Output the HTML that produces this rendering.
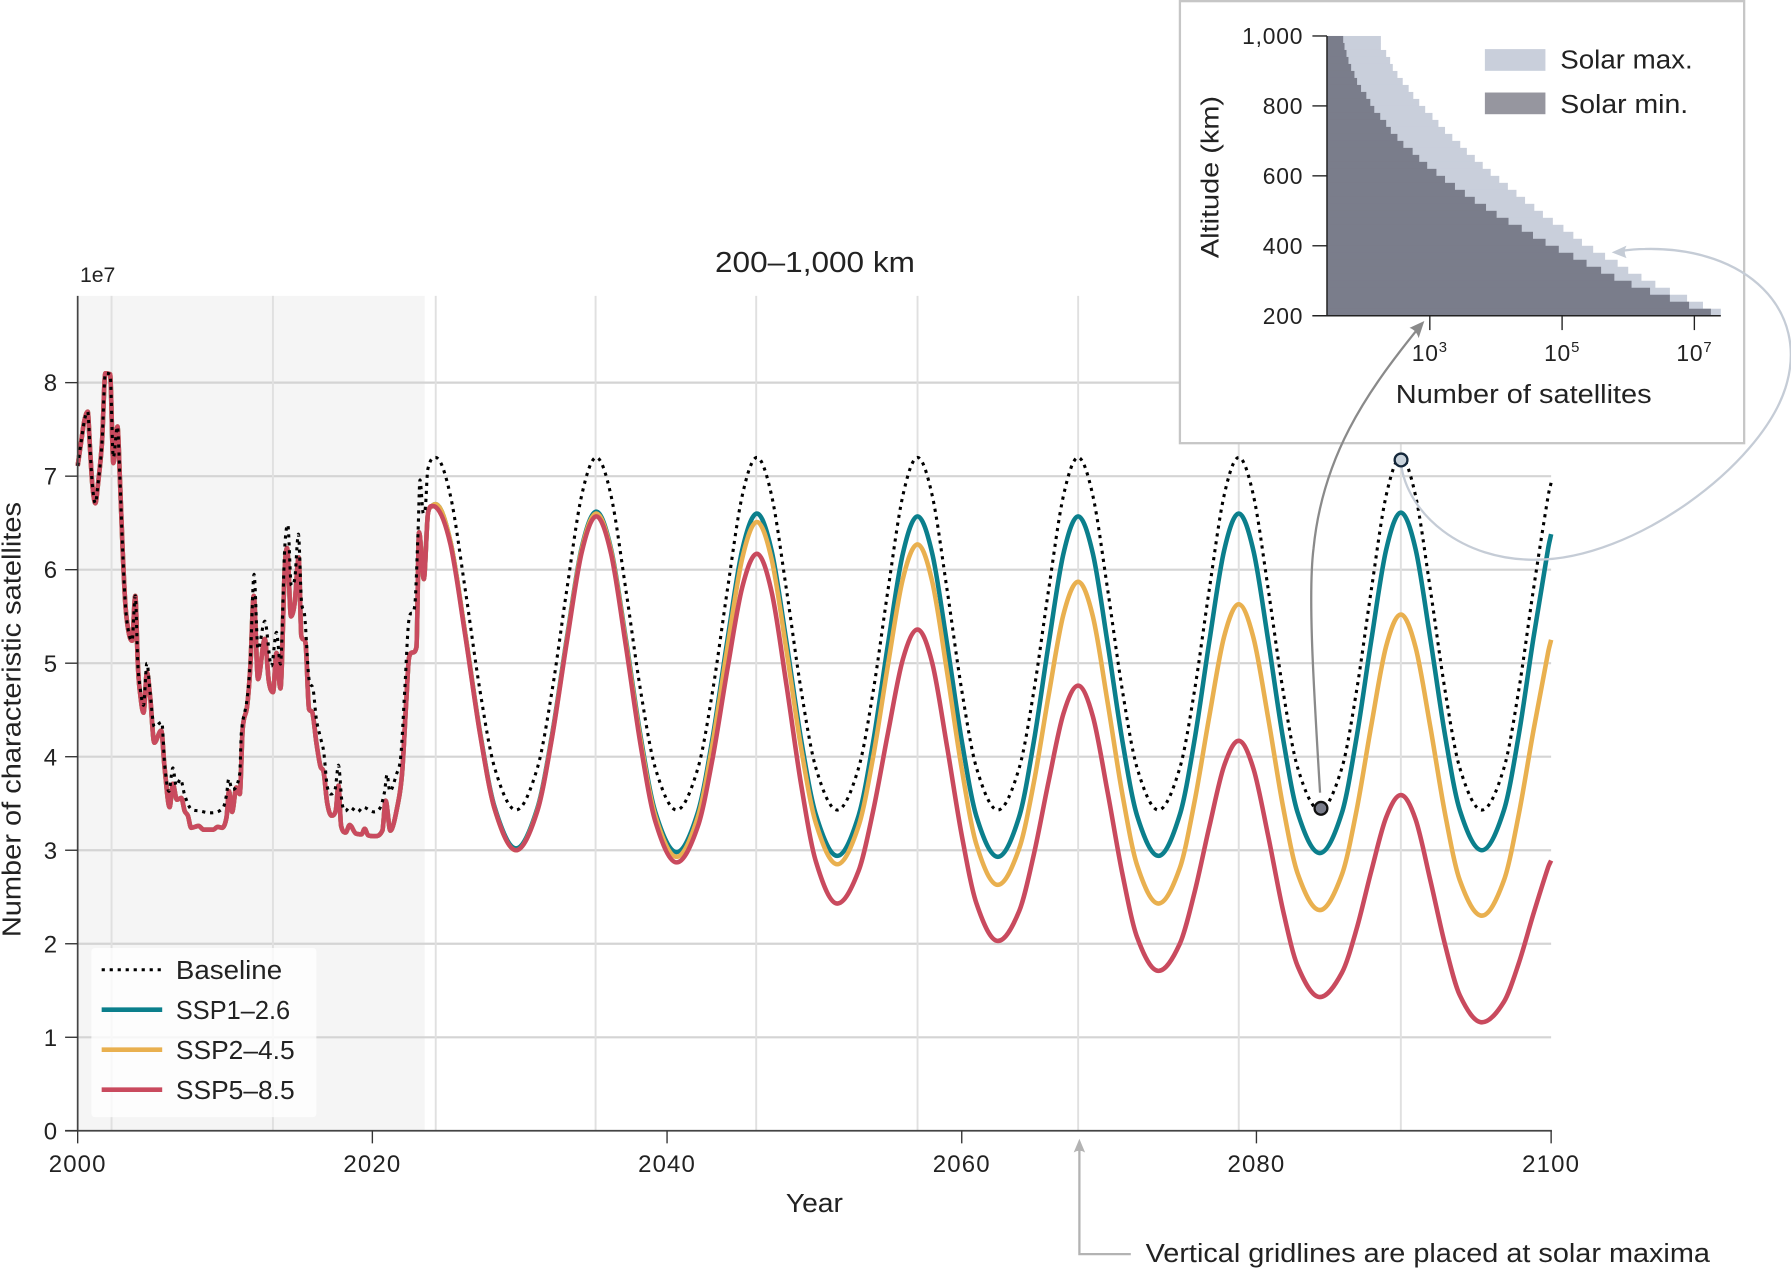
<!DOCTYPE html>
<html lang="en">
<head>
<meta charset="utf-8">
<title>Characteristic satellites 200–1,000 km</title>
<style>
html,body{margin:0;padding:0;background:#fff;}
svg{display:block;}
text{font-family:"Liberation Sans",sans-serif;fill:#222;}
.tick{font-size:21px;}
.xt{letter-spacing:1px;text-anchor:middle;}
.yt{text-anchor:end;}
.lab{font-size:23px;}
.it{font-size:20px;letter-spacing:.7px;}
</style>
</head>
<body>
<svg id="fig" xmlns="http://www.w3.org/2000/svg" width="1791" height="1269" viewBox="0 0 1568 1111">
  <rect x="0" y="0" width="1568" height="1111" fill="#fff"/>
  <g id="main-plot"></g>
  <text x="70" y="247" font-size="19" textLength="31" lengthAdjust="spacingAndGlyphs">1e7</text>
  <text x="713.5" y="238" font-size="25" text-anchor="middle" textLength="175" lengthAdjust="spacingAndGlyphs">200–1,000 km</text>
  <text transform="translate(18 630) rotate(-90)" class="lab" text-anchor="middle" textLength="381" lengthAdjust="spacingAndGlyphs">Number of characteristic satellites</text>
  <text x="713" y="1061" class="lab" text-anchor="middle" textLength="50" lengthAdjust="spacingAndGlyphs">Year</text>

  <g>
    <rect x="80" y="830" width="197" height="148" rx="3" fill="#fff" fill-opacity=".78"/>
    <line x1="89" x2="142" y1="849" y2="849" stroke="#000" stroke-width="2.6" stroke-dasharray="2.8 4.2"/>
    <text x="154" y="857" class="lab" textLength="93" lengthAdjust="spacingAndGlyphs">Baseline</text>
    <line x1="89" x2="142" y1="884" y2="884" stroke="#0b7f8c" stroke-width="4"/>
    <text x="154" y="892" class="lab" textLength="100" lengthAdjust="spacingAndGlyphs">SSP1–2.6</text>
    <line x1="89" x2="142" y1="919" y2="919" stroke="#e9b04f" stroke-width="4"/>
    <text x="154" y="927" class="lab" textLength="104" lengthAdjust="spacingAndGlyphs">SSP2–4.5</text>
    <line x1="89" x2="142" y1="954" y2="954" stroke="#c94a5e" stroke-width="4"/>
    <text x="154" y="962" class="lab" textLength="104" lengthAdjust="spacingAndGlyphs">SSP5–8.5</text>
  </g>

  <g>
    <path d="M990 1098H945V1004" fill="none" stroke="#b3b3b3" stroke-width="2"/>
    <path d="M945 997L940 1009Q945 1006 950 1009Z" fill="#b3b3b3"/>
    <text x="1003" y="1105" class="lab" textLength="494" lengthAdjust="spacingAndGlyphs">Vertical gridlines are placed at solar maxima</text>
  </g>

  <g>
    <rect x="1033" y="1" width="494" height="387" fill="#fff" stroke="#c6c6c6" stroke-width="2"/>
    <g id="inset-plot"></g>
    <rect x="1300" y="43" width="53" height="19" fill="#c9cfdb"/>
    <text x="1366" y="60" font-size="23" textLength="116" lengthAdjust="spacingAndGlyphs">Solar max.</text>
    <rect x="1300" y="81" width="53" height="19" fill="#96969f"/>
    <text x="1366" y="99" font-size="23" textLength="112" lengthAdjust="spacingAndGlyphs">Solar min.</text>
    <text transform="translate(1067 155) rotate(-90)" font-size="22" text-anchor="middle" textLength="142" lengthAdjust="spacingAndGlyphs">Altitude (km)</text>
    <text x="1334" y="353" font-size="23" text-anchor="middle" textLength="224" lengthAdjust="spacingAndGlyphs">Number of satellites</text>
  </g>

  <g>
    <path d="M1155.7 694C1150 600 1145 520 1150 480C1158 400 1195 345 1242 287" fill="none" stroke="#8a8a8a" stroke-width="2"/>
    <path d="M1247 281L1234 287Q1240 289 1242 296Z" fill="#8a8a8a"/>
    <path d="M1226.6 406C1232 450 1280 491 1345 490C1430 490 1541 408 1563 340C1585 272 1530 216 1440 218C1430 218 1424 219 1417 220" fill="none" stroke="#c5ccd6" stroke-width="2"/>
    <path d="M1411 221L1424 215Q1421 220 1424 226Z" fill="#c5ccd6"/>
    <circle cx="1226.6" cy="402.7" r="5.6" fill="#c9d3dc" stroke="#14273a" stroke-width="2"/>
    <circle cx="1156.5" cy="707.7" r="5.6" fill="#7a7d8b" stroke="#111" stroke-width="2"/>
  </g>
</svg>

<script>
// ---- main chart data ----
const yTickValues = [0, 1, 2, 3, 4, 5, 6, 7, 8];
const xTickYears = [2000, 2020, 2040, 2060, 2080, 2100];
const solarMaximaYears = [2002.3, 2013.25, 2024.3, 2035.15, 2046.05, 2057, 2067.9, 2078.8, 2089.8];
const observedEndYear = 2023.55;

const historyScenarioYears = [2000,2000.23,2000.45,2000.68,2000.84,2001,2001.2,2001.37,2001.65,2001.88,2002.2,2002.42,2002.7,2002.87,2003.05,2003.24,2003.46,2003.69,2003.91,2004.08,2004.2,2004.47,2004.7,2004.92,2005.2,2005.67,2005.9,2006.24,2006.46,2006.73,2007.03,2007.26,2007.48,2007.7,2008.2,2008.55,2009.2,2009.5,2009.8,2010.1,2010.27,2010.48,2010.77,2011,2011.2,2011.5,2011.72,2011.95,2012.24,2012.7,2012.97,2013.26,2013.49,2013.76,2014.05,2014.21,2014.48,2014.73,2015,2015.18,2015.46,2015.7,2015.93,2016.2,2016.47,2016.7,2016.93,2017.22,2017.51,2017.7,2017.88,2018.19,2018.46,2018.87,2019.26,2019.48,2019.71,2020.16,2020.68,2020.9,2021.22,2021.75,2022.02,2022.31,2022.49,2022.99,2023.17,2023.49,2023.78,2024.05];
const historyScenarioValues = [7.11,7.36,7.59,7.69,7.29,6.9,6.71,6.9,7.36,8.1,8.09,7.14,7.53,6.96,6.22,5.62,5.33,5.24,5.72,5,4.73,4.47,4.9,4.64,4.15,4.28,3.88,3.46,3.71,3.54,3.56,3.42,3.37,3.24,3.26,3.22,3.22,3.25,3.24,3.35,3.63,3.41,3.67,3.6,4.3,4.54,4.97,5.72,4.83,5.26,4.81,4.69,5.11,4.73,6,6.23,5.5,5.65,6.13,5.29,5.22,4.51,4.47,4.15,3.9,3.83,3.51,3.37,3.42,3.69,3.26,3.19,3.27,3.18,3.17,3.23,3.16,3.15,3.21,3.53,3.21,3.51,3.83,4.62,5.06,5.17,6.4,5.9,6.61,6.68];

const historyBaselineYears = [2000,2000.23,2000.45,2000.68,2000.84,2001,2001.2,2001.37,2001.65,2001.88,2002.2,2002.42,2002.7,2002.87,2003.05,2003.24,2003.46,2003.69,2003.91,2004.08,2004.2,2004.47,2004.7,2004.92,2005.2,2005.71,2005.9,2006.19,2006.46,2006.69,2006.98,2007.26,2007.7,2008.28,2008.96,2009.86,2010.1,2010.25,2010.48,2011,2011.11,2011.5,2011.72,2011.97,2012.24,2012.7,2013.15,2013.49,2013.76,2014.05,2014.26,2014.5,2014.73,2014.98,2015.18,2015.41,2015.7,2015.98,2016.2,2016.47,2016.7,2016.93,2017.18,2017.47,2017.7,2017.94,2018.17,2018.46,2019,2019.37,2020.1,2020.55,2020.82,2021,2021.18,2021.63,2021.93,2022.2,2022.47,2022.88,2023.1,2023.23,2023.46,2023.6,2023.76];
const historyBaselineValues = [7.11,7.36,7.59,7.69,7.29,6.9,6.71,6.9,7.36,8.1,8.09,7.2,7.53,6.96,6.22,5.62,5.33,5.24,5.72,5,4.78,4.55,5,4.68,4.32,4.37,3.92,3.63,3.88,3.69,3.76,3.59,3.44,3.42,3.4,3.45,3.59,3.76,3.65,3.82,4.26,4.62,5.04,5.95,5.15,5.45,4.97,5.33,4.99,6.22,6.48,5.83,5.9,6.38,5.68,5.5,4.83,4.72,4.4,4.21,4.05,3.69,3.6,3.65,3.91,3.51,3.42,3.46,3.41,3.46,3.41,3.46,3.62,3.81,3.63,3.81,4.01,4.72,5.45,5.62,6.4,6.96,6.6,6.67,7.07];

const futureYears = [2024.3,2025.3,2026.3,2027.3,2028.3,2029.75,
2031.2,2032.2,2033.2,2034.2,2035.2,2036.2,2037.2,2038.2,2039.2,2040.65,
2042.1,2043.1,2044.1,2045.1,2046.1,2047.1,2048.1,2049.1,2050.1,2051.55,
2053,2054,2055,2056,2057,2058,2059,2060,2061,2062.45,
2063.9,2064.9,2065.9,2066.9,2067.9,2068.9,2069.9,2070.9,2071.9,2073.35,
2074.8,2075.8,2076.8,2077.8,2078.8,2079.8,2080.8,2081.8,2082.8,2084.3,
2085.8,2086.8,2087.8,2088.8,2089.8,2090.8,2091.8,2092.8,2093.8,2095.3,
2096.8,2097.8,2098.8,2099.8,2100];

const futureBaseline = [7.2,6.79,5.79,4.71,3.88,3.43,
3.88,4.71,5.79,6.79,7.2,6.79,5.79,4.71,3.88,3.43,
3.88,4.71,5.79,6.79,7.2,6.79,5.79,4.71,3.88,3.43,
3.88,4.71,5.79,6.79,7.2,6.79,5.79,4.71,3.88,3.43,
3.88,4.71,5.79,6.79,7.2,6.79,5.79,4.71,3.88,3.43,
3.88,4.71,5.79,6.79,7.2,6.79,5.79,4.71,3.88,3.43,
3.88,4.71,5.79,6.79,7.2,6.79,5.79,4.71,3.88,3.43,
3.88,4.71,5.79,6.79,6.93];

const futureSsp1 = [6.7,6.3,5.32,4.27,3.46,3.02,
3.45,4.24,5.27,6.23,6.62,6.22,5.26,4.22,3.41,2.98,
3.41,4.21,5.25,6.21,6.6,6.2,5.23,4.18,3.38,2.94,
3.37,4.17,5.21,6.17,6.57,6.17,5.21,4.17,3.36,2.93,
3.36,4.17,5.21,6.17,6.57,6.17,5.21,4.17,3.37,2.94,
3.38,4.18,5.23,6.2,6.6,6.2,5.24,4.2,3.4,2.97,
3.4,4.21,5.25,6.21,6.61,6.22,5.26,4.23,3.43,3,
3.43,4.23,5.27,6.23,6.38];

const futureSsp2 = [6.7,6.3,5.32,4.26,3.44,3,
3.43,4.22,5.25,6.21,6.6,6.2,5.23,4.18,3.37,2.93,
3.36,4.15,5.17,6.12,6.51,6.11,5.14,4.09,3.29,2.85,
3.26,4.01,4.99,5.9,6.27,5.87,4.91,3.87,3.06,2.63,
3.02,3.73,4.66,5.52,5.87,5.5,4.58,3.6,2.84,2.43,
2.81,3.52,4.43,5.28,5.63,5.27,4.41,3.47,2.75,2.36,
2.74,3.43,4.34,5.18,5.52,5.17,4.32,3.39,2.68,2.3,
2.68,3.38,4.28,5.12,5.25];

const futureSsp5 = [6.67,6.27,5.3,4.25,3.44,3,
3.42,4.21,5.23,6.18,6.57,6.17,5.19,4.13,3.31,2.87,
3.26,3.99,4.94,5.81,6.17,5.76,4.77,3.7,2.88,2.43,
2.78,3.43,4.26,5.04,5.36,5,4.11,3.16,2.43,2.03,
2.35,2.96,3.74,4.46,4.76,4.43,3.62,2.75,2.07,1.71,
2,2.55,3.25,3.9,4.17,3.87,3.15,2.36,1.76,1.43,
1.69,2.16,2.78,3.35,3.59,3.33,2.68,1.99,1.45,1.16,
1.38,1.79,2.32,2.82,2.89];

// ---- inset histogram data ----
const altitudeBinFloors = [980,960,940,920,900,880,860,840,820,800,780,760,740,720,700,680,660,640,620,600,580,560,540,520,500,480,460,440,420,400,380,360,340,320,300,280,260,240,220,200];
const solarMaxLog10 = [2.26,2.26,2.34,2.40,2.44,2.51,2.59,2.68,2.75,2.84,2.93,3.04,3.13,3.23,3.34,3.46,3.56,3.68,3.80,3.92,4.05,4.18,4.31,4.44,4.58,4.71,4.86,5.02,5.17,5.30,5.47,5.65,5.84,6.00,6.20,6.41,6.63,6.89,7.13,7.40];
const solarMinLog10 = [1.69,1.71,1.74,1.77,1.81,1.86,1.90,1.96,2.04,2.10,2.16,2.25,2.34,2.41,2.51,2.60,2.74,2.84,2.96,3.10,3.23,3.38,3.53,3.68,3.85,4.01,4.19,4.39,4.56,4.75,4.95,5.17,5.37,5.59,5.79,6.05,6.33,6.63,6.92,7.25];
const insetAltitudeTicks = [200, 400, 600, 800, 1000];
const insetAltitudeLabels = ["200", "400", "600", "800", "1,000"];
const insetCountExponents = [3, 5, 7];

// ---- axis functions ----
const xScale = function (year) { return 68 + (year - 2000) * 12.9; };
const yScale = function (v) { return 990 - v * 81.875; };
const insetX = function (log10v) { return 1251.8 + (log10v - 3) * 57.9; };
const insetY = function (km) { return 276.4 - (km - 200) * 0.30613; };

const NS = 'http://www.w3.org/2000/svg';
const mainPlot = document.getElementById('main-plot');
const insetPlot = document.getElementById('inset-plot');

function make(tag, parent, attrs, text) {
  const el = document.createElementNS(NS, tag);
  for (const k in attrs) el.setAttribute(k, attrs[k]);
  if (text !== undefined) el.textContent = text;
  parent.appendChild(el);
  return el;
}

// Cubic Hermite spline: central-difference tangents, flat at local extrema, limited to avoid overshoot.
function smoothPath(xs, ys) {
  const n = xs.length, d = [], m = [];
  for (let i = 0; i < n - 1; i++) d.push((ys[i + 1] - ys[i]) / (xs[i + 1] - xs[i]));
  m.push(d[0]);
  for (let i = 1; i < n - 1; i++) {
    if (d[i - 1] * d[i] <= 0) { m.push(0); continue; }
    const central = (ys[i + 1] - ys[i - 1]) / (xs[i + 1] - xs[i - 1]);
    const limit = 3 * Math.min(Math.abs(d[i - 1]), Math.abs(d[i]));
    m.push(Math.sign(central) * Math.min(Math.abs(central), limit));
  }
  m.push(d[n - 2]);
  let p = 'M' + xs[0].toFixed(2) + ' ' + ys[0].toFixed(2);
  for (let i = 0; i < n - 1; i++) {
    const h = (xs[i + 1] - xs[i]) / 3;
    p += 'C' + (xs[i] + h).toFixed(2) + ' ' + (ys[i] + m[i] * h).toFixed(2) + ' ' +
      (xs[i + 1] - h).toFixed(2) + ' ' + (ys[i + 1] - m[i + 1] * h).toFixed(2) + ' ' +
      xs[i + 1].toFixed(2) + ' ' + ys[i + 1].toFixed(2);
  }
  return p;
}

// observed-period shading
const shade = make('rect', mainPlot, { x: xScale(2000), y: 259, width: xScale(observedEndYear) - xScale(2000), height: 731, fill: '#f5f5f5' });



// horizontal gridlines
yTickValues.forEach(function (v) {
  if (v === 0) return;
  const g = make('line', mainPlot, { x1: xScale(2000), x2: xScale(2100), y1: yScale(v), y2: yScale(v), stroke: '#d4d4d4', 'stroke-width': 1.9 });
  
  
});

// vertical gridlines at solar maxima
solarMaximaYears.forEach(function (yr) {
  const g = make('line', mainPlot, { x1: xScale(yr), x2: xScale(yr), y1: 259, y2: 990, stroke: '#e0e0e0', 'stroke-width': 1.7 });
  
  
});

// series
function drawSeries(histX, histY, futY, stroke, width, name, dash) {
  const xs = histX.concat(futureYears).map(xScale);
  const ys = histY.concat(futY).map(yScale);
  const attrs = { d: smoothPath(xs, ys), fill: 'none', stroke: stroke, 'stroke-width': width, 'stroke-linejoin': 'round' };
  if (dash) attrs['stroke-dasharray'] = dash;
  const line = make('path', mainPlot, attrs);
  
  
}
drawSeries(historyScenarioYears, historyScenarioValues, futureSsp1, '#0b7f8c', 4, 'ssp1-2.6-line');
drawSeries(historyScenarioYears, historyScenarioValues, futureSsp2, '#e9b04f', 4, 'ssp2-4.5-line');
drawSeries(historyScenarioYears, historyScenarioValues, futureSsp5, '#c94a5e', 4, 'ssp5-8.5-line');
drawSeries(historyBaselineYears, historyBaselineValues, futureBaseline, '#000', 2.7, 'baseline-line', '2.8 4.2');

// axes
const ySpine = make('line', mainPlot, { x1: 68, x2: 68, y1: 259, y2: 990, stroke: '#444', 'stroke-width': 1.5 });


const xSpine = make('line', mainPlot, { x1: 57, x2: 1358.7, y1: 990, y2: 990, stroke: '#444', 'stroke-width': 1.5 });



yTickValues.forEach(function (v) {
  const t = make('line', mainPlot, { x1: 57, x2: 68, y1: yScale(v), y2: yScale(v), stroke: '#333', 'stroke-width': 1.2 });
  
  
  const l = make('text', mainPlot, { x: 50, y: yScale(v) + 7.5, class: 'tick yt' }, String(v));
  
  
});
xTickYears.forEach(function (yr) {
  const t = make('line', mainPlot, { x1: xScale(yr), x2: xScale(yr), y1: 990, y2: 1001, stroke: '#333', 'stroke-width': 1.2 });
  
  
  const l = make('text', mainPlot, { x: xScale(yr), y: 1026, class: 'tick xt' }, String(yr));
  
  
});

// inset histogram
altitudeBinFloors.forEach(function (km, i) {
  const top = insetY(km + 20), h = insetY(km) - top + 0.3;
  const maxBar = make('rect', insetPlot, { x: insetX(1.445), y: top, width: insetX(solarMaxLog10[i]) - insetX(1.445), height: h, fill: '#c9cfdb' });
  
  
});
altitudeBinFloors.forEach(function (km, i) {
  const top = insetY(km + 20), h = insetY(km) - top + 0.3;
  const minBar = make('rect', insetPlot, { x: insetX(1.445), y: top, width: insetX(solarMinLog10[i]) - insetX(1.445), height: h, fill: '#7a7d8b' });
  
  
});
const insetYSpine = make('line', insetPlot, { x1: insetX(1.445), x2: insetX(1.445), y1: insetY(1000), y2: insetY(200), stroke: '#222', 'stroke-width': 1.3 });


const insetXSpine = make('line', insetPlot, { x1: 1149, x2: insetX(7.4), y1: insetY(200), y2: insetY(200), stroke: '#222', 'stroke-width': 1.3 });


insetAltitudeTicks.forEach(function (km, i) {
  const t = make('line', insetPlot, { x1: 1149, x2: insetX(1.445), y1: insetY(km), y2: insetY(km), stroke: '#222', 'stroke-width': 1.2 });
  
  
  const l = make('text', insetPlot, { x: 1141, y: insetY(km) + 7.2, class: 'it yt' }, insetAltitudeLabels[i]);
  
  
});
insetCountExponents.forEach(function (e) {
  const t = make('line', insetPlot, { x1: insetX(e), x2: insetX(e), y1: insetY(200), y2: 289, stroke: '#222', 'stroke-width': 1.2 });
  
  
  const l = make('text', insetPlot, { x: insetX(e), y: 316, class: 'it xt', 'text-anchor': 'middle' }, '10');
  
  
  make('tspan', l, { dy: -8, 'font-size': 13 }, String(e));
});
</script>
</body>
</html>
